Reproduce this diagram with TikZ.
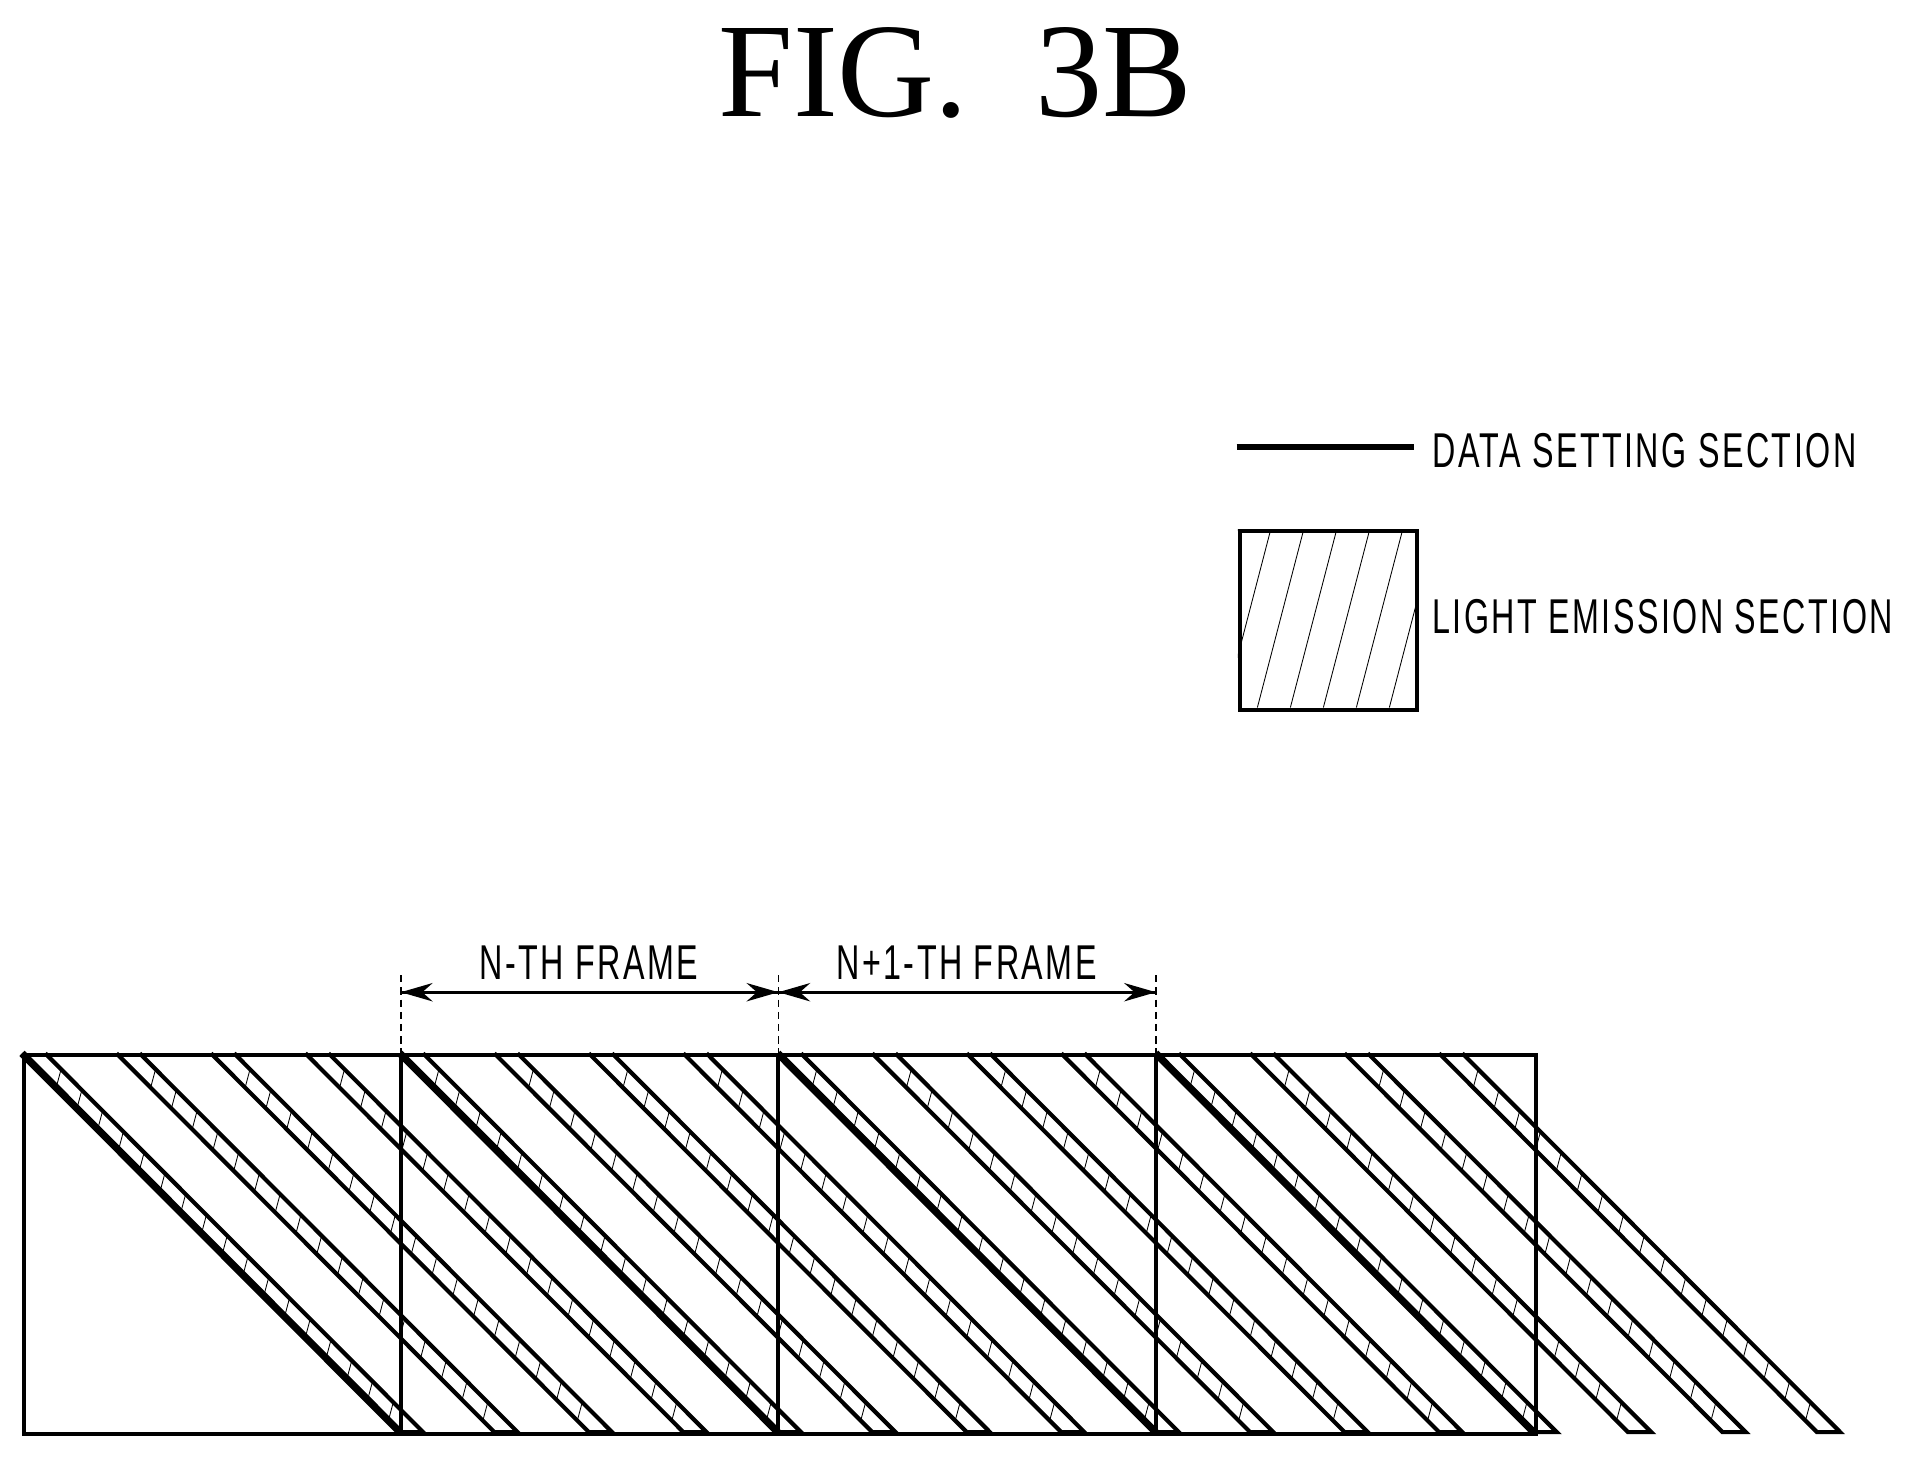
\documentclass[tikz,border=0pt]{standalone}
\usepackage{fontspec}
\usetikzlibrary{arrows.meta}
\setmainfont{Liberation Serif}
\newfontfamily\nar[FakeStretch=0.66,LetterSpace=5]{Liberation Sans}
\begin{document}
\begin{tikzpicture}[x=1pt,y=-1pt,
  edge/.style={line width=3.4pt},
  dataline/.style={line width=6pt},
  hatchline/.style={line width=0.7pt},
  lbl/.style={font=\nar\fontsize{40}{40}\selectfont, inner sep=0pt},
  dim/.style={line width=2.4pt, -{Stealth[length=26pt,width=15pt]}},
]
\useasboundingbox (0,0) rectangle (1568,1193);
\node[font=\fontsize{110}{110}\selectfont, inner sep=0pt] (title) at (782,60) {FIG.\hspace{0.5em}3B};
% legend
\coordinate (la) at (1012,366); \coordinate (lb) at (1157,366);
\draw[line width=4.5pt] (la) -- (lb);
\node[lbl, anchor=west] (t1) at (1172,369) {DATA SETTING SECTION};
\node[draw, edge, minimum width=145pt, minimum height=146pt, anchor=north west, inner sep=0pt] (lbox) at (1013,433) {};
\begin{scope}
\clip (1013,433) rectangle (1158,579);
\foreach \x in {975,1002,...,1170} \draw[hatchline] (\x,579) -- (\x+38,433);
\end{scope}
\node[lbl, anchor=west] (t2) at (1172,505) {LIGHT EMISSION SECTION};
% frames
\def\yt{862}\def\yb{1172}\def\fw{309.25}\def\bw{19}
\foreach \i in {0,1,2,3}{
  \foreach \k in {0,1,2,3}{
    \pgfmathsetmacro\xo{18+\fw*\i+\fw/4*\k}
    \pgfmathsetmacro\xe{\xo+\fw}
    \draw[edge] (\xo,\yt) -- (\xe,\yb) -- (\xe+\bw,\yb) -- (\xo+\bw,\yt);
    \foreach \y in {890,907,...,1172}{
      \pgfmathsetmacro\xl{\xo+\y-\yt}
      \draw[hatchline] (\xl,\y) -- (\xl+\bw-15,\y-15);
    }
  }
  \pgfmathsetmacro\xo{18+\fw*\i}
  \draw[dataline] (\xo,\yt) -- (\xo+\fw,\yb);
}
\node[draw, edge, minimum width=1237pt, minimum height=310pt, anchor=north west, inner sep=0pt] (rect) at (18,862) {};
\foreach \n/\x in {a/328,b/637,c/946}{
  \coordinate (top\n) at (\x,\yt); \coordinate (bot\n) at (\x,\yb); \coordinate (d\n) at (\x,798);
  \draw[edge] (top\n) -- (bot\n);
  \draw[line width=1.2pt, dash pattern=on 6pt off 4pt] (d\n) -- (top\n);
}
\coordinate (ma) at (328,812); \coordinate (mb) at (637,812); \coordinate (mc) at (946,812);
\draw[dim] (mb) -- (ma); \draw[dim] (ma) -- (mb);
\draw[dim] (mc) -- (mb); \draw[dim] (mb) -- (mc);
\node[lbl] (f1) at (482,788) {N-TH FRAME};
\node[lbl] (f2) at (791,788) {N+1-TH FRAME};
\end{tikzpicture}
\end{document}
